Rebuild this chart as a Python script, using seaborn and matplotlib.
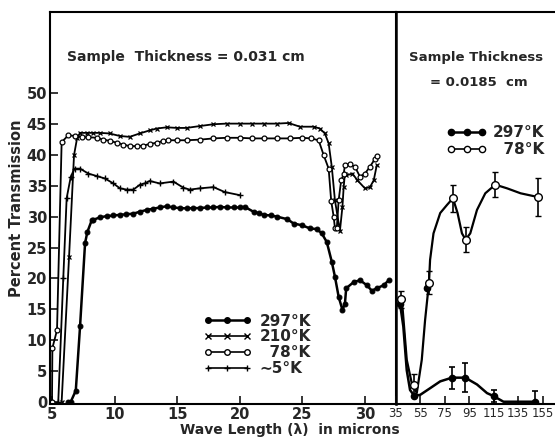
import numpy as np
import pandas as pd
import matplotlib
matplotlib.use("Agg")
import matplotlib.pyplot as plt
import seaborn as sns
from matplotlib.lines import Line2D

# left panel: transmission vs wave length (microns), 0.031 cm sample
x297 = [6.3, 6.5, 6.9, 7.24, 7.64, 7.82, 8.17, 8.3, 8.83, 9.37, 9.9, 10.4, 10.95, 11.5, 12.0,
        12.56, 13.1, 13.6, 14.16, 14.7, 15.2, 15.75, 16.3, 16.8, 17.35, 17.9, 18.4, 18.95,
        19.5, 20.0, 20.4, 21.1, 21.5, 21.9, 22.5, 23.0, 23.8, 24.3, 25.0, 25.6, 26.15, 26.55,
        26.95, 27.35, 27.6, 27.9, 28.2, 28.4, 28.5, 29.1, 29.6, 30.15, 30.55, 30.95, 31.5, 31.9]
y297 = [0.0, 0.0, 1.8, 12.2, 25.7, 27.5, 29.4, 29.5, 29.9, 30.1, 30.2, 30.3, 30.4, 30.5, 30.8,
        31.1, 31.3, 31.5, 31.7, 31.5, 31.4, 31.35, 31.4, 31.4, 31.5, 31.5, 31.6, 31.5,
        31.5, 31.5, 31.6, 30.8, 30.6, 30.3, 30.2, 30.0, 29.6, 28.9, 28.6, 28.1, 28.0, 27.3,
        25.9, 22.7, 20.3, 17.0, 14.9, 15.9, 18.4, 19.4, 19.7, 18.9, 18.0, 18.4, 18.9, 19.7]

x210 = [5.77, 6.36, 6.76, 7.0, 7.24, 7.77, 8.3, 8.83, 9.6, 10.4, 11.2, 12.0, 12.8, 13.36, 14.16,
        15.0, 15.75, 16.8, 17.9, 18.95, 20.0, 21.0, 21.9, 23.0, 23.9, 24.8, 25.9, 26.4, 26.8,
        27.1, 27.35, 27.6, 28.0, 28.2, 28.3, 28.4, 28.5, 29.0, 29.4, 30.0, 30.4, 30.7, 30.95]
y210 = [0.0, 23.4, 40.0, 42.7, 43.6, 43.6, 43.6, 43.6, 43.5, 43.1, 42.95, 43.5, 44.0, 44.3, 44.5,
        44.4, 44.4, 44.7, 45.0, 45.1, 45.1, 45.1, 45.1, 45.1, 45.2, 44.6, 44.6, 44.3, 43.5,
        41.9, 38.1, 32.7, 27.7, 31.6, 34.8, 37.0, 36.7, 37.0, 35.9, 34.6, 34.8, 35.9, 38.4]

x78 = [5.0, 5.03, 5.4, 5.77, 6.3, 6.84, 7.37, 7.9, 8.57, 9.1, 9.63, 10.17, 10.7, 11.2, 11.77,
       12.3, 12.83, 13.36, 13.9, 14.3, 15.0, 15.75, 16.8, 17.9, 18.95, 20.0, 21.0, 21.9, 23.0,
       24.0, 24.95, 25.7, 26.3, 26.7, 27.1, 27.3, 27.5, 27.6, 27.75, 27.9, 28.1, 28.3, 28.4,
       28.8, 29.2, 29.6, 30.0, 30.4, 30.8, 30.95]
y78 = [0.0, 8.7, 11.6, 42.1, 43.2, 43.1, 42.9, 42.9, 42.8, 42.5, 42.3, 42.0, 41.7, 41.45, 41.45,
       41.55, 41.8, 42.0, 42.3, 42.4, 42.4, 42.4, 42.5, 42.7, 42.8, 42.8, 42.7, 42.7, 42.7,
       42.7, 42.8, 42.7, 42.4, 40.0, 37.8, 32.6, 30.0, 28.2, 28.1, 32.7, 35.9, 36.9, 38.4,
       38.5, 38.1, 36.5, 37.0, 38.1, 39.4, 39.8]

x5 = [5.5, 5.9, 6.17, 6.5, 6.8, 7.24, 7.9, 8.57, 9.23, 9.9, 10.43, 10.97, 11.5, 12.03, 12.4,
      12.8, 13.6, 14.7, 15.5, 16.0, 16.8, 17.9, 18.8, 20.0]
y5 = [0.0, 20.0, 33.0, 36.5, 37.8, 37.8, 37.0, 36.6, 36.2, 35.4, 34.6, 34.4, 34.4, 35.2, 35.4,
      35.8, 35.4, 35.7, 34.7, 34.4, 34.6, 34.8, 34.0, 33.5]

# right panel: 0.0185 cm sample, measured points with error bars
fx297 = [38.3, 49.8, 80.8, 91.7, 115.0, 149.0]
fy297 = [15.9, 1.0, 3.9, 3.9, 0.9, 0.0]
fe297 = [0.0, 0.0, 1.8, 2.3, 1.0, 1.7]
fx297_extra = [60.2]
fy297_extra = [18.4]

fx78 = [39.1, 50.0, 62.0, 81.6, 92.0, 116.3, 151.0]
fy78 = [16.6, 2.7, 19.3, 33.0, 26.3, 35.2, 33.2]
fe78 = [1.4, 1.8, 1.9, 2.2, 2.1, 2.0, 3.1]

# hand drawn curves through the points
cx297 = [38.3, 41.0, 43.8, 46.5, 49.8, 54.7, 63.0, 71.2, 80.8, 91.7, 101.3, 109.5, 115.0, 123.0, 135.0, 149.0]
cy297 = [15.9, 12.2, 5.1, 1.9, 1.0, 1.1, 2.2, 3.3, 3.9, 3.9, 2.8, 1.4, 0.9, 0.0, 0.0, 0.0]
cx78 = [39.1, 40.5, 43.8, 47.9, 52.0, 56.1, 58.8, 62.0, 62.9, 65.7, 71.2, 76.7, 81.6, 85.4, 89.0,
        92.0, 95.8, 101.3, 108.1, 116.3, 126.0, 137.0, 151.0]
cy78 = [16.6, 14.9, 6.8, 3.0, 1.4, 6.8, 13.2, 19.3, 23.0, 27.3, 30.6, 31.9, 33.0, 30.6, 27.3,
        26.3, 27.3, 31.1, 33.8, 35.2, 34.6, 33.8, 33.2]

left_ticks = [5, 10, 15, 20, 25, 30]
right_ticks = [35, 55, 75, 95, 115, 135, 155]
y_ticks = [0, 5, 10, 15, 20, 25, 30, 35, 40, 45, 50]
y_labels = ["0", "5", "10", "15", "20", "25", "30", "35", "40", "45", "50"]

sns.set_style("ticks")
plt.rcParams["font.family"] = ["DejaVu Sans"]
plt.rcParams["font.weight"] = "bold"

fig = plt.figure(figsize=(5.55, 4.38), dpi=100)
W, H = 555.0, 438.0
bot = 1 - 404 / H
hgt = (404 - 12) / H
ax1 = fig.add_axes([50 / W, bot, (396 - 50) / W, hgt])
ax2 = fig.add_axes([396 / W, bot, (556 - 396) / W, hgt])

k = "black"
common = dict(color=k, sort=False, estimator=None, legend=False, markeredgecolor=k)

sns.lineplot(x=x297, y=y297, ax=ax1, marker="o", markersize=3.5, linewidth=1.8, **common)
sns.lineplot(x=x210, y=y210, ax=ax1, marker="x", markersize=3.5, markeredgewidth=0.9,
             linewidth=1.3, **common)
sns.lineplot(x=x78, y=y78, ax=ax1, marker="o", markersize=3.5, markerfacecolor="white",
             markeredgewidth=0.9, linewidth=1.3, **common)
sns.lineplot(x=x5, y=y5, ax=ax1, marker="+", markersize=4.5, markeredgewidth=1.0,
             linewidth=1.3, **common)

ax1.set_xlim(4.84, 32.48)
ax1.set_ylim(-0.37, 63.2)
ax1.set_xticks(left_ticks)
ax1.set_xticklabels([str(t) for t in left_ticks])
ax1.set_yticks(y_ticks)
ax1.set_yticklabels(y_labels)
ax1.tick_params(direction="in", length=6, width=1.3, labelsize=10.5, pad=2)
ax1.set_ylabel("Percent Transmission", fontsize=10.5, fontweight="bold", labelpad=2)
for s in ax1.spines.values():
    s.set_linewidth(1.5)
    s.set_color(k)

h_left = [
    Line2D([], [], color=k, marker="o", markersize=4, lw=1.8),
    Line2D([], [], color=k, marker="x", markersize=4, lw=1.2),
    Line2D([], [], color=k, marker="o", markersize=4, mfc="white", lw=1.2),
    Line2D([], [], color=k, marker="+", markersize=5, lw=1.2),
]
ax1.legend(h_left, ["297°K", "210°K", "  78°K", "∼5°K"], numpoints=3, handlelength=3.2,
           frameon=False, fontsize=11, labelspacing=0.05, handletextpad=0.5,
           loc="upper left", bbox_to_anchor=(0.42, 0.25), borderpad=0)
ax1.text(0.05, 0.885, "Sample  Thickness = 0.031 cm", transform=ax1.transAxes,
         fontsize=10, fontweight="bold", va="center")

# right panel
sns.lineplot(x=cx297, y=cy297, ax=ax2, linewidth=1.8, color=k, sort=False,
             estimator=None, legend=False)
sns.lineplot(x=cx78, y=cy78, ax=ax2, linewidth=1.6, color=k, sort=False,
             estimator=None, legend=False)
ax2.errorbar(fx297, fy297, yerr=fe297, fmt="o", color=k, ms=4.5, capsize=2.5,
             elinewidth=1.2, capthick=1.2)
ax2.plot(fx297_extra, fy297_extra, "o", color=k, ms=4.5)
ax2.errorbar(fx78, fy78, yerr=fe78, fmt="o", color=k, mfc="white", ms=5.5, mew=1.0,
             capsize=2.5, elinewidth=1.2, capthick=1.2)

ax2.set_xlim(35, 166)
ax2.set_ylim(-0.37, 63.2)
ax2.set_xticks(right_ticks)
ax2.set_xticklabels([str(t) for t in right_ticks], fontsize=8.5, fontweight="normal",
                    family=["DejaVu Sans Condensed", "DejaVu Sans"])
ax2.set_yticks([])
ax2.tick_params(axis="x", direction="in", length=6, width=1.3, pad=2)
for s in ax2.spines.values():
    s.set_linewidth(1.5)
    s.set_color(k)
ax2.spines["right"].set_visible(False)
ax2.spines["left"].set_linewidth(1.8)

h_right = [
    Line2D([], [], color=k, marker="o", markersize=4.5, lw=1.8),
    Line2D([], [], color=k, marker="o", markersize=4.5, mfc="white", lw=1.2),
]
ax2.legend(h_right, ["297°K", "  78°K"], numpoints=3, handlelength=2.6, frameon=False,
           fontsize=11, labelspacing=0.1, handletextpad=0.4, loc="upper left",
           bbox_to_anchor=(0.27, 0.73), borderpad=0)
ax2.text(0.5, 0.885, "Sample Thickness", transform=ax2.transAxes, fontsize=9.5,
         fontweight="bold", ha="center", va="center")
ax2.text(0.52, 0.82, "= 0.0185  cm", transform=ax2.transAxes, fontsize=9.5,
         fontweight="bold", ha="center", va="center")

fig.text(290 / W, 1 - 430 / H, "Wave Length (λ)  in microns", fontsize=10,
         fontweight="bold", ha="center", va="center")

fig.savefig("out.png", dpi=100)
